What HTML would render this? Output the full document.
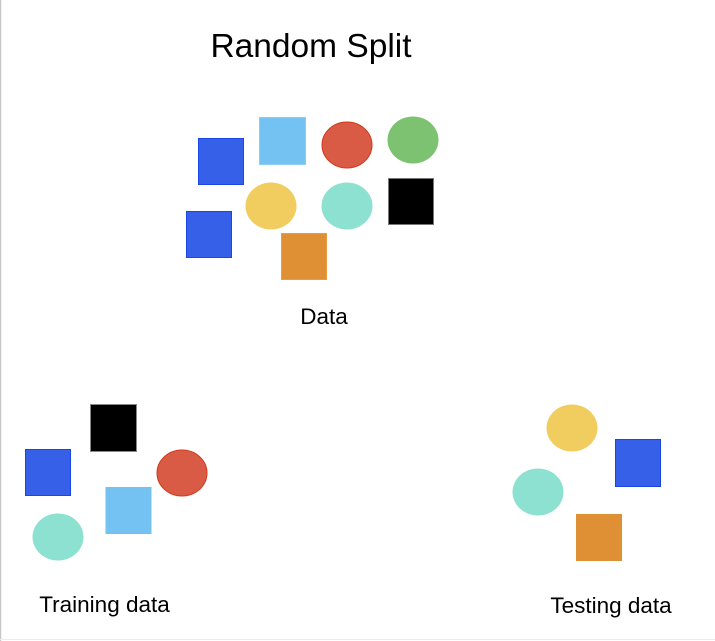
<!DOCTYPE html>
<html><head><style>
html,body{margin:0;padding:0;background:#fff}
body{width:715px;height:641px;overflow:hidden}
</style></head><body>
<svg width="715" height="641" xmlns="http://www.w3.org/2000/svg" style="display:block">
<rect x="0" y="0" width="715" height="641" fill="#fff"/>
<line x1="0.5" y1="0" x2="0.5" y2="641" stroke="#c8c8c8" stroke-width="1.5"/>
<line x1="0" y1="639.5" x2="715" y2="639.5" stroke="#ececec" stroke-width="1"/>
<g font-family="Liberation Sans, sans-serif" fill="#000">
<text x="311" y="57" font-size="33.5" text-anchor="middle">Random Split</text>
<text x="324" y="324" font-size="22.5" text-anchor="middle">Data</text>
<text x="104.5" y="612" font-size="22.5" text-anchor="middle">Training data</text>
<text x="611" y="613" font-size="22.5" text-anchor="middle">Testing data</text>
</g>
<!-- top -->
<rect x="198.5" y="138.5" width="45" height="46" fill="#3760e8" stroke="#1a46e8"/>
<rect x="259.5" y="117.5" width="46" height="47" fill="#74c2f2" stroke="#8ccdf5"/>
<ellipse cx="347" cy="145" rx="25" ry="23" fill="#d95b46" stroke="#d23a1c"/>
<ellipse cx="413" cy="140" rx="25.5" ry="23.5" fill="#7cc270"/>
<ellipse cx="271" cy="206" rx="25.5" ry="23.5" fill="#f0cd5e"/>
<ellipse cx="347" cy="206" rx="25.5" ry="23.5" fill="#8de1d0"/>
<rect x="388.5" y="178.5" width="45" height="46" fill="#000" stroke="#777"/>
<rect x="186.5" y="211.5" width="45" height="46" fill="#3760e8" stroke="#1a46e8"/>
<rect x="281.5" y="233.5" width="45" height="46" fill="#e09034" stroke="#eb9a3e"/>
<!-- training -->
<rect x="90.5" y="404.5" width="46" height="47" fill="#000" stroke="#888"/>
<rect x="25.5" y="449.5" width="45" height="46" fill="#3760e8" stroke="#1a46e8"/>
<ellipse cx="182" cy="473" rx="25" ry="23" fill="#d95b46" stroke="#d23a1c"/>
<rect x="105.5" y="487" width="46" height="47" fill="#74c2f2"/>
<ellipse cx="58" cy="537" rx="25.5" ry="23.5" fill="#8de1d0"/>
<!-- testing -->
<ellipse cx="572" cy="428" rx="25.5" ry="23.5" fill="#f0cd5e"/>
<rect x="615.5" y="439.5" width="45" height="47" fill="#3760e8" stroke="#1a46e8"/>
<ellipse cx="538" cy="492" rx="25.5" ry="23.5" fill="#8de1d0"/>
<rect x="576" y="514" width="46" height="47" fill="#e09034"/>
</svg>
</body></html>
